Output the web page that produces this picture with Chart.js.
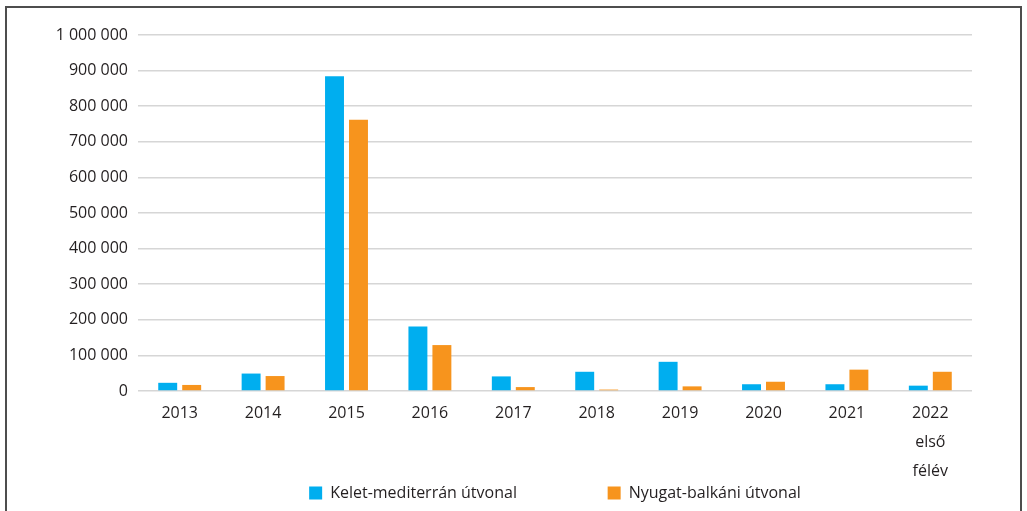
<!DOCTYPE html>
<html>
<head>
<meta charset="utf-8">
<script src="https://cdn.jsdelivr.net/npm/chart.js@4/dist/chart.umd.min.js"></script>
<style>
  html, body { margin: 0; padding: 0; background: #ffffff; overflow: hidden; }
  #wrap { position: relative; width: 1027px; height: 511px; overflow: hidden; background: #fff; }
  #frame { position: absolute; left: 5px; top: 6px; width: 1013px; height: 520px; border: 2px solid #4d4d4d; box-sizing: content-box; }
  canvas { position: absolute; left: 0; top: 0; }
</style>
</head>
<body>
<div id="wrap">
  <div id="frame"></div>
  <canvas id="c" width="1027" height="511"></canvas>
</div>
<script>
const categories = ['2013', '2014', '2015', '2016', '2017', '2018', '2019', '2020', '2021', ['2022', 'első', 'félév']];
const seriesNames = ['Kelet-mediterrán útvonal', 'Nyugat-balkáni útvonal'];
const eastMed = [23000, 49000, 884000, 181000, 41000, 54000, 82000, 19000, 19000, 15000];
const westBalkan = [17000, 42000, 762000, 129000, 11000, 4000, 13000, 26000, 60000, 54000];
const yTickLabels = ['0', '100 000', '200 000', '300 000', '400 000', '500 000', '600 000', '700 000', '800 000', '900 000', '1 000 000'];

const FONT = '"Open Sans", "Noto Sans", sans-serif';
const FS = 16;
const TEXT = '#231f20';

// legend spacing: first box at x=309, second box at x=607.5
const mctx = document.createElement('canvas').getContext('2d');
mctx.font = 'normal ' + FS + 'px ' + FONT;
const BOX = 13, LEG_BOX1 = 309, LEG_BOX2 = 607.5;
const w1 = mctx.measureText(seriesNames[0]).width;
const sp = mctx.measureText(' ').width;
const wanted = LEG_BOX2 - LEG_BOX1 - BOX - FS / 2;
const nSp = Math.max(0, Math.floor((wanted - w1 - 2) / sp));
const label1 = seriesNames[0] + ' '.repeat(nSp);
const w1s = mctx.measureText(label1).width;
const legPad = Math.max(0, wanted - w1s);
const w2 = mctx.measureText(seriesNames[1]).width;
const total = (BOX + FS / 2 + w1s) + (BOX + FS / 2 + w2) + legPad;
const PAD_L = 40;
const canvasW = Math.round(2 * LEG_BOX1 + total - PAD_L);
const cv = document.getElementById('c');
cv.width = canvasW;
cv.style.width = canvasW + 'px';
const PLOT_RIGHT = 972, PLOT_LEFT = 138, PLOT_BOTTOM = 391;
const legendH = FS + legPad + 10;

new Chart(cv, {
  type: 'bar',
  data: {
    labels: categories,
    datasets: [
      { label: seriesNames[0], data: eastMed, backgroundColor: '#00aeef', borderWidth: 0, yAxisID: 'y' },
      { label: seriesNames[1], data: westBalkan, backgroundColor: '#f7941d', borderWidth: 0, yAxisID: 'y' }
    ]
  },
  options: {
    responsive: false,
    animation: false,
    events: [],
    layout: { padding: { left: PAD_L, right: 0, top: 35, bottom: 0 } },
    datasets: { bar: { barPercentage: 0.79, categoryPercentage: 0.575 } },
    plugins: {
      tooltip: { enabled: false },
      legend: {
        position: 'bottom',
        labels: {
          boxWidth: BOX, boxHeight: BOX, padding: legPad,
          color: TEXT,
          font: { family: FONT, size: FS },
          generateLabels(chart) {
            const items = Chart.defaults.plugins.legend.labels.generateLabels(chart);
            items[0].text = label1;
            return items;
          }
        }
      }
    },
    scales: {
      x: {
        grid: { display: false, drawTicks: false },
        border: { display: false },
        ticks: {
          color: TEXT, padding: 8, autoSkip: false, maxRotation: 0,
          font: { family: FONT, size: FS, lineHeight: 1.8 }
        },
        afterFit(s) { s.height = 511 - legendH - PLOT_BOTTOM; }
      },
      y: {
        min: 0, max: 1000000,
        grid: { color: '#d6d6d6', lineWidth: 1.5, drawTicks: false },
        border: { display: false },
        ticks: {
          stepSize: 100000, padding: 10, color: TEXT,
          font: { family: FONT, size: FS },
          callback: (v, i) => yTickLabels[i]
        },
        afterFit(s) { s.width = PLOT_LEFT - PAD_L; }
      },
      y2: {
        position: 'right',
        grid: { display: false, drawTicks: false },
        border: { display: false },
        ticks: { display: false },
        afterFit(s) { s.width = canvasW - PLOT_RIGHT; }
      }
    }
  }
});
</script>
</body>
</html>
